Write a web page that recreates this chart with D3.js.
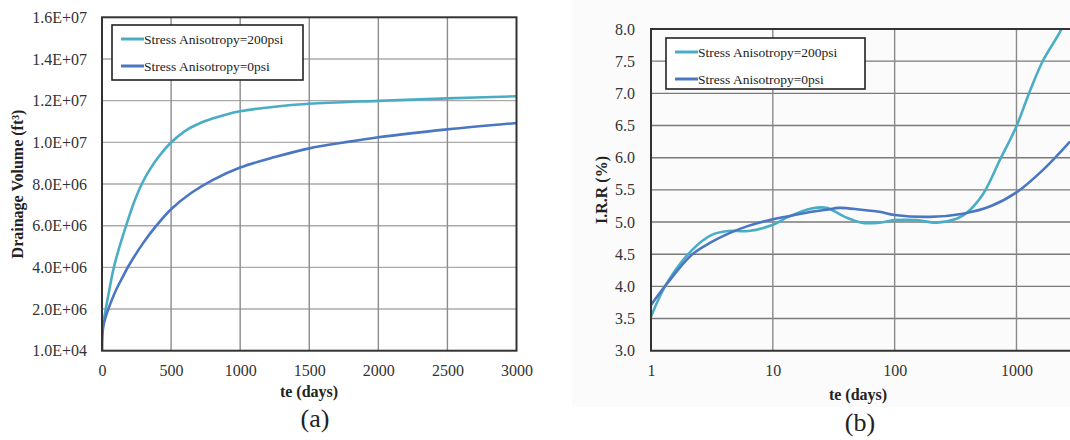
<!DOCTYPE html>
<html>
<head>
<meta charset="utf-8">
<script src="https://cdn.jsdelivr.net/npm/d3@7"></script>
<style>
  body { margin: 0; background: #fff; }
  svg { display: block; }
  svg text { font-family: "Liberation Serif", "Times New Roman", "DejaVu Serif", serif; }
</style>
</head>
<body>
<div id="canvas"></div>
<script>
"use strict";

let svgWidth = 1070;
let svgHeight = 440;
let serif = "'Liberation Serif', 'Times New Roman', 'DejaVu Serif', serif";

// ---- data: (a) drainage volume vs time ----
let seriesNames = ["Stress Anisotropy=200psi", "Stress Anisotropy=0psi"];
let seriesColors = ["#4bacc6", "#4a76c2"];

let volDays200 = [0, 2, 10, 20, 35, 55, 82, 120, 174, 230, 287, 350, 420, 500, 600, 700, 800, 900, 1000, 1250, 1500, 2000, 2500, 3000];
let volValues200 = [1e4, 0.8e6, 1.4e6, 1.75e6, 2.3e6, 3.0e6, 3.9e6, 4.85e6, 6.0e6, 7.1e6, 8.0e6, 8.75e6, 9.4e6, 1.0e7, 1.055e7, 1.09e7, 1.115e7, 1.135e7, 1.15e7, 1.172e7, 1.186e7, 1.2e7, 1.212e7, 1.222e7];

let volDays0 = [0, 2, 10, 25, 48, 100, 150, 190, 290, 386, 500, 650, 800, 1000, 1250, 1500, 1750, 2000, 2500, 3000];
let volValues0 = [1e4, 0.7e6, 1.2e6, 1.6e6, 2.05e6, 2.9e6, 3.55e6, 4.05e6, 5.1e6, 5.95e6, 6.8e6, 7.6e6, 8.2e6, 8.8e6, 9.3e6, 9.72e6, 1.0e7, 1.025e7, 1.063e7, 1.094e7];

let volXTicks = [0, 500, 1000, 1500, 2000, 2500, 3000];
let volYTicks = [1e4, 2.01e6, 4.01e6, 6.01e6, 8.01e6, 1.001e7, 1.201e7, 1.401e7, 1.601e7];

// ---- data: (b) I.R.R vs time (log) ----
let irrDays200 = [1, 1.35, 2.16, 3.15, 4.31, 6.29, 9.8, 13.4, 20.8, 27.6, 39, 53.5, 75, 100, 151, 220, 322, 389, 534, 729, 1000, 1285, 1652, 2342, 2750];
let irrValues200 = [3.53, 4.05, 4.56, 4.80, 4.86, 4.86, 4.95, 5.08, 5.21, 5.22, 5.08, 4.99, 4.99, 5.03, 5.03, 4.99, 5.05, 5.14, 5.44, 5.96, 6.49, 7.03, 7.51, 8.0, 8.35];

let irrDays0 = [1, 1.35, 2.16, 3.15, 4.31, 6.29, 9.8, 13.4, 20.8, 27.6, 35, 53.5, 75, 100, 194, 364, 604, 1000, 1652, 2750];
let irrValues0 = [3.71, 4.04, 4.49, 4.69, 4.82, 4.94, 5.04, 5.09, 5.16, 5.19, 5.22, 5.19, 5.16, 5.11, 5.08, 5.13, 5.24, 5.46, 5.81, 6.25];

let irrXTicks = [1, 10, 100, 1000];
let irrYTicks = [3.0, 3.5, 4.0, 4.5, 5.0, 5.5, 6.0, 6.5, 7.0, 7.5, 8.0];

let svg = d3.select("#canvas")
  .append("svg")
  .attr("width", svgWidth)
  .attr("height", svgHeight);

// faint backdrop behind panel (b)
svg.append("rect")
  .attr("x", 572).attr("y", 0)
  .attr("width", svgWidth - 572).attr("height", 407)
  .attr("fill", "#fbfbfb");

let defs = svg.append("defs");

function zip(xs, ys) {
  return xs.map(function(x, i) { return { x: x, y: ys[i] }; });
}

function styleAxis(ax) {
  ax.attr("font-family", serif);
  ax.select(".domain").remove();
  ax.selectAll("text")
    .style("font-family", serif)
    .style("font-size", "16px")
    .attr("fill", "#333");
}

function drawLegend(g, x0, y0, w, h) {
  g.append("rect")
    .attr("x", x0).attr("y", y0)
    .attr("width", w).attr("height", h)
    .attr("fill", "#fff")
    .attr("stroke", "#222")
    .attr("stroke-width", 1.6);
  for (let i = 0; i < seriesNames.length; i++) {
    let cy = y0 + 14 + i * 27;
    g.append("line")
      .attr("x1", x0 + 9).attr("x2", x0 + 32)
      .attr("y1", cy).attr("y2", cy)
      .attr("stroke", seriesColors[i])
      .attr("stroke-width", 3);
    g.append("text")
      .attr("x", x0 + 32).attr("y", cy + 4.5)
      .style("font-family", serif)
      .style("font-size", "13.5px")
      .attr("fill", "#222")
      .text(seriesNames[i]);
  }
}

/* ================= Panel (a) ================= */
let aLeft = 102, aRight = 516.5, aTop = 17.3, aBottom = 350.7;

let xA = d3.scaleLinear().domain([0, 3000]).range([aLeft, aRight]);
let yA = d3.scaleLinear().domain([1e4, 1.601e7]).range([aBottom, aTop]);

let gA = svg.append("g");

// grid
gA.append("g").selectAll("line")
  .data(volYTicks.slice(1, -1))
  .enter().append("line")
  .attr("x1", aLeft).attr("x2", aRight)
  .attr("y1", function(d) { return yA(d); })
  .attr("y2", function(d) { return yA(d); })
  .attr("stroke", "#aaa").attr("stroke-width", 1.4);

gA.append("g").selectAll("line")
  .data(volXTicks.slice(1, -1))
  .enter().append("line")
  .attr("y1", aTop).attr("y2", aBottom)
  .attr("x1", function(d) { return xA(d); })
  .attr("x2", function(d) { return xA(d); })
  .attr("stroke", "#8c8c8c").attr("stroke-width", 1.4);

// axes (labels only)
let axA_x = gA.append("g")
  .attr("transform", "translate(0," + aBottom + ")")
  .call(d3.axisBottom(xA).tickValues(volXTicks).tickSize(0).tickPadding(14)
    .tickFormat(d3.format("d")));
let axA_y = gA.append("g")
  .attr("transform", "translate(" + aLeft + ",0)")
  .call(d3.axisLeft(yA).tickValues(volYTicks).tickSize(0).tickPadding(15)
    .tickFormat(function(d) {
      let s = d.toExponential(1).toUpperCase();
      return s.replace(/E([+-])(\d)$/, "E$10$2");
    }));
styleAxis(axA_x);
styleAxis(axA_y);

// curves
defs.append("clipPath").attr("id", "clipA")
  .append("rect")
  .attr("x", aLeft).attr("y", aTop)
  .attr("width", aRight - aLeft).attr("height", aBottom - aTop);

let lineA = d3.line()
  .x(function(d) { return xA(d.x); })
  .y(function(d) { return yA(d.y); })
  .curve(d3.curveCatmullRom.alpha(0.5));

let volSeries = [zip(volDays200, volValues200), zip(volDays0, volValues0)];
gA.append("g").attr("clip-path", "url(#clipA)")
  .selectAll("path")
  .data(volSeries)
  .enter().append("path")
  .attr("d", lineA)
  .attr("fill", "none")
  .attr("stroke", function(d, i) { return seriesColors[i]; })
  .attr("stroke-width", 2.6);

// frame
gA.append("rect")
  .attr("x", aLeft).attr("y", aTop)
  .attr("width", aRight - aLeft).attr("height", aBottom - aTop)
  .attr("fill", "none")
  .attr("stroke", "#333").attr("stroke-width", 2);

drawLegend(gA, 112, 25, 191, 55);

// titles
gA.append("text")
  .attr("transform", "translate(23," + 184 + ") rotate(-90)")
  .attr("text-anchor", "middle")
  .style("font-family", serif)
  .style("font-size", "16px").style("font-weight", "bold")
  .attr("fill", "#222")
  .text("Drainage Volume (ft³)");

gA.append("text")
  .attr("x", 309).attr("y", 397)
  .attr("text-anchor", "middle")
  .style("font-family", serif)
  .style("font-size", "16px").style("font-weight", "bold")
  .attr("fill", "#222")
  .text("te (days)");

gA.append("text")
  .attr("x", 315).attr("y", 427)
  .attr("text-anchor", "middle")
  .style("font-family", serif)
  .style("font-size", "26px")
  .attr("fill", "#222")
  .text("(a)");

/* ================= Panel (b) ================= */
let bLeft = 651, bRight = 1070, bTop = 29, bBottom = 350.7;

let xB = d3.scaleLog().domain([1, 2750]).range([bLeft, bRight]);
let yB = d3.scaleLinear().domain([3, 8]).range([bBottom, bTop]);

let gB = svg.append("g");

gB.append("g").selectAll("line")
  .data(irrYTicks.slice(1, -1))
  .enter().append("line")
  .attr("x1", bLeft).attr("x2", bRight)
  .attr("y1", function(d) { return yB(d); })
  .attr("y2", function(d) { return yB(d); })
  .attr("stroke", "#7a7a7a").attr("stroke-width", 1.4);

gB.append("g").selectAll("line")
  .data(irrXTicks.slice(1))
  .enter().append("line")
  .attr("y1", bTop).attr("y2", bBottom)
  .attr("x1", function(d) { return xB(d); })
  .attr("x2", function(d) { return xB(d); })
  .attr("stroke", "#8a8a8a").attr("stroke-width", 1.4);

let axB_x = gB.append("g")
  .attr("transform", "translate(0," + bBottom + ")")
  .call(d3.axisBottom(xB).tickValues(irrXTicks).tickSize(0).tickPadding(14)
    .tickFormat(d3.format("d")));
let axB_y = gB.append("g")
  .attr("transform", "translate(" + bLeft + ",0)")
  .call(d3.axisLeft(yB).tickValues(irrYTicks).tickSize(0).tickPadding(16)
    .tickFormat(d3.format(".1f")));
styleAxis(axB_x);
styleAxis(axB_y);

defs.append("clipPath").attr("id", "clipB")
  .append("rect")
  .attr("x", bLeft).attr("y", bTop)
  .attr("width", bRight - bLeft).attr("height", bBottom - bTop);

let lineB = d3.line()
  .x(function(d) { return xB(d.x); })
  .y(function(d) { return yB(d.y); })
  .curve(d3.curveCatmullRom.alpha(0.5));

let irrSeries = [zip(irrDays200, irrValues200), zip(irrDays0, irrValues0)];
gB.append("g").attr("clip-path", "url(#clipB)")
  .selectAll("path")
  .data(irrSeries)
  .enter().append("path")
  .attr("d", lineB)
  .attr("fill", "none")
  .attr("stroke", function(d, i) { return seriesColors[i]; })
  .attr("stroke-width", 2.6);

// frame: left, top, bottom (right side is cut off)
gB.append("path")
  .attr("d", "M" + bRight + "," + bTop + "H" + bLeft + "V" + bBottom + "H" + bRight)
  .attr("fill", "none")
  .attr("stroke", "#333").attr("stroke-width", 2);

drawLegend(gB, 666, 38, 199, 51);

gB.append("text")
  .attr("transform", "translate(607," + 190 + ") rotate(-90)")
  .attr("text-anchor", "middle")
  .style("font-family", serif)
  .style("font-size", "16px").style("font-weight", "bold")
  .attr("fill", "#222")
  .text("I.R.R (%)");

gB.append("text")
  .attr("x", 858).attr("y", 400)
  .attr("text-anchor", "middle")
  .style("font-family", serif)
  .style("font-size", "16px").style("font-weight", "bold")
  .attr("fill", "#222")
  .text("te (days)");

gB.append("text")
  .attr("x", 860).attr("y", 431)
  .attr("text-anchor", "middle")
  .style("font-family", serif)
  .style("font-size", "26px")
  .attr("fill", "#222")
  .text("(b)");
</script>
</body>
</html>
